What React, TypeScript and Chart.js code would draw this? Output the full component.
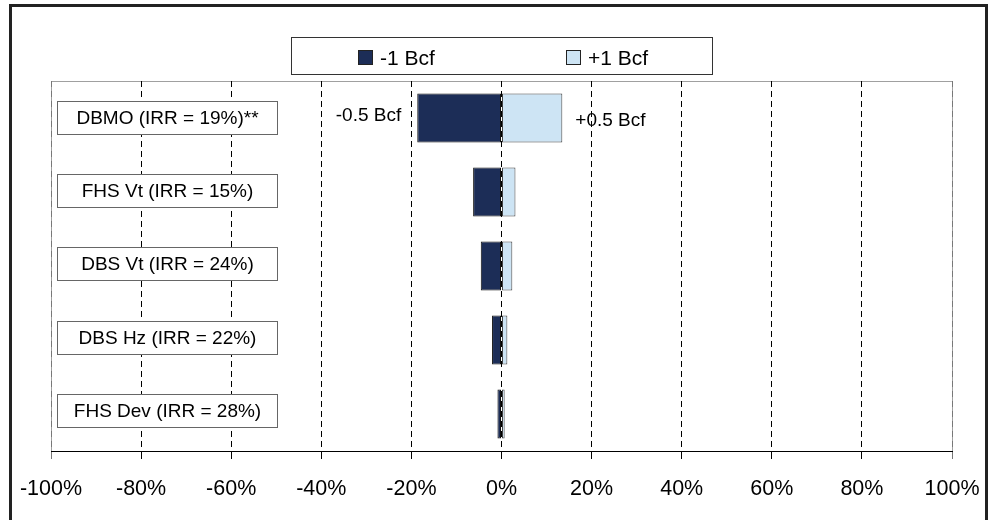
import React, { useEffect, useRef } from "react";
import { Chart, registerables } from "chart.js";

Chart.register(...registerables);

// ---- data ----
const categories = [
  "DBMO (IRR = 19%)**",
  "FHS Vt (IRR = 15%)",
  "DBS Vt (IRR = 24%)",
  "DBS Hz (IRR = 22%)",
  "FHS Dev (IRR = 28%)",
];
const minusSeries = [-18.7, -6.3, -4.6, -2.1, -0.9];
const plusSeries = [13.5, 3.1, 2.4, 1.3, 0.7];
const seriesNames = ["-1 Bcf", "+1 Bcf"];
const axisMin = -100;
const axisMax = 100;
const axisStep = 20;
const barNotes = ["-0.5 Bcf", "+0.5 Bcf"];
const noteCategoryIndex = 0;

// ---- style ----
const FONT = "'Liberation Sans', Arial, sans-serif";
const DARK = "#1C2D57";
const LIGHT = "#CDE4F4";

const decorPlugin = {
  id: "decor",
  beforeDraw(chart: any) {
    const { ctx, chartArea: a } = chart;
    ctx.save();
    ctx.fillStyle = "#fff";
    ctx.fillRect(0, 0, chart.width, chart.height);
    // plot frame (top + sides), light gray
    ctx.strokeStyle = "#a0a0a0";
    ctx.lineWidth = 1;
    ctx.beginPath();
    ctx.moveTo(Math.round(a.left) + 0.5, Math.round(a.bottom));
    ctx.lineTo(Math.round(a.left) + 0.5, Math.round(a.top) + 0.5);
    ctx.lineTo(Math.round(a.right) + 0.5, Math.round(a.top) + 0.5);
    ctx.lineTo(Math.round(a.right) + 0.5, Math.round(a.bottom) + 8);
    ctx.stroke();
    ctx.restore();
  },
  afterDraw(chart: any) {
    const { ctx, chartArea: a } = chart;
    const yScale = chart.scales.y;
    ctx.save();

    // legend box
    const lx = 291.5, ly = 37.5, lw = 421, lh = 37;
    ctx.fillStyle = "#fff";
    ctx.fillRect(lx, ly, lw, lh);
    ctx.strokeStyle = "#333";
    ctx.lineWidth = 1;
    ctx.strokeRect(lx, ly, lw, lh);
    ctx.font = `21px ${FONT}`;
    ctx.textBaseline = "alphabetic";
    ctx.textAlign = "left";
    const ds = chart.data.datasets;
    const colW = lw / ds.length;
    ds.forEach((d: any, i: number) => {
      const tw = ctx.measureText(d.label).width;
      const itemW = 15 + 7 + tw;
      const sx = Math.round(lx + colW * i + (colW - itemW) / 2);
      ctx.fillStyle = d.backgroundColor;
      ctx.fillRect(sx + 0.5, 50.5, 14, 14);
      ctx.strokeStyle = "#222";
      ctx.strokeRect(sx + 0.5, 50.5, 14, 14);
      ctx.fillStyle = "#000";
      ctx.fillText(d.label, sx + 22, 65);
    });

    // category label boxes
    ctx.font = `19px ${FONT}`;
    ctx.textAlign = "center";
    ctx.textBaseline = "middle";
    const bx = Math.round(a.left) + 6.5;
    const bw = 220;
    const bh = 33;
    chart.data.labels.forEach((lab: string, i: number) => {
      const cy = yScale.getPixelForValue(i) - 1 - 0.6 * i;
      const by = Math.round(cy - bh / 2) + 0.5;
      ctx.fillStyle = "#fff";
      ctx.fillRect(bx, by, bw, bh);
      ctx.strokeStyle = "#666";
      ctx.strokeRect(bx, by, bw, bh);
      ctx.fillStyle = "#000";
      ctx.fillText(lab, bx + bw / 2, by + bh / 2 + 1);
    });

    // notes beside the top bar
    const metaMinus = chart.getDatasetMeta(0).data[noteCategoryIndex];
    const metaPlus = chart.getDatasetMeta(1).data[noteCategoryIndex];
    const cy0 = yScale.getPixelForValue(noteCategoryIndex);
    ctx.textAlign = "right";
    ctx.fillText(barNotes[0], metaMinus.x - 16, cy0 - 2);
    ctx.textAlign = "left";
    ctx.fillText(barNotes[1], metaPlus.x + 13, cy0 + 3);

    // outer border
    ctx.strokeStyle = "#222";
    ctx.lineWidth = 3;
    ctx.strokeRect(10.5, 5.5, 976, 600);
    ctx.restore();
  },
};

export default function App() {
  const ref = useRef<HTMLCanvasElement | null>(null);
  useEffect(() => {
    if (!ref.current) return;
    const edge = (ctx: any) =>
      ctx.tick && (ctx.tick.value === axisMin || ctx.tick.value === axisMax) ? "#777" : "#000";
    const chart = new Chart(ref.current, {
      type: "bar",
      data: {
        labels: categories,
        datasets: [
          {
            label: seriesNames[0],
            data: minusSeries,
            backgroundColor: DARK,
            borderColor: "#111",
            borderWidth: 1,
            borderSkipped: false,
          },
          {
            label: seriesNames[1],
            data: plusSeries,
            backgroundColor: LIGHT,
            borderColor: "#444",
            borderWidth: 1,
            borderSkipped: false,
          },
        ],
      },
      options: {
        indexAxis: "y",
        responsive: false,
        animation: false,
        events: [],
        barPercentage: 0.66,
        categoryPercentage: 1,
        layout: { padding: { left: 51, right: 40, top: 81, bottom: 0 } },
        plugins: { legend: { display: false }, tooltip: { enabled: false } },
        scales: {
          x: {
            type: "linear",
            min: axisMin,
            max: axisMax,
            stacked: true,
            ticks: {
              stepSize: axisStep,
              color: "#000",
              padding: 17,
              maxRotation: 0,
              font: { family: FONT, size: 21.5 },
              callback: (v: any) => `${v}%`,
            },
            grid: {
              color: edge,
              tickColor: edge,
              lineWidth: 1,
              tickLength: 8,
              drawTicks: true,
            },
            border: { display: true, color: "#000", width: 1, dash: [6, 4] },
            afterFit: (s: any) => {
              s.height = 69;
              s.paddingLeft = 0;
              s.paddingRight = 0;
            },
          },
          y: {
            type: "category",
            stacked: true,
            display: false,
          },
        },
      } as any,
      plugins: [decorPlugin],
    });
    return () => chart.destroy();
  }, []);
  return (
    <div style={{ position: "fixed", left: 0, top: 0, width: 992, height: 520, background: "#fff" }}>
      <canvas ref={ref} width={992} height={520} style={{ display: "block" }} />
    </div>
  );
}
